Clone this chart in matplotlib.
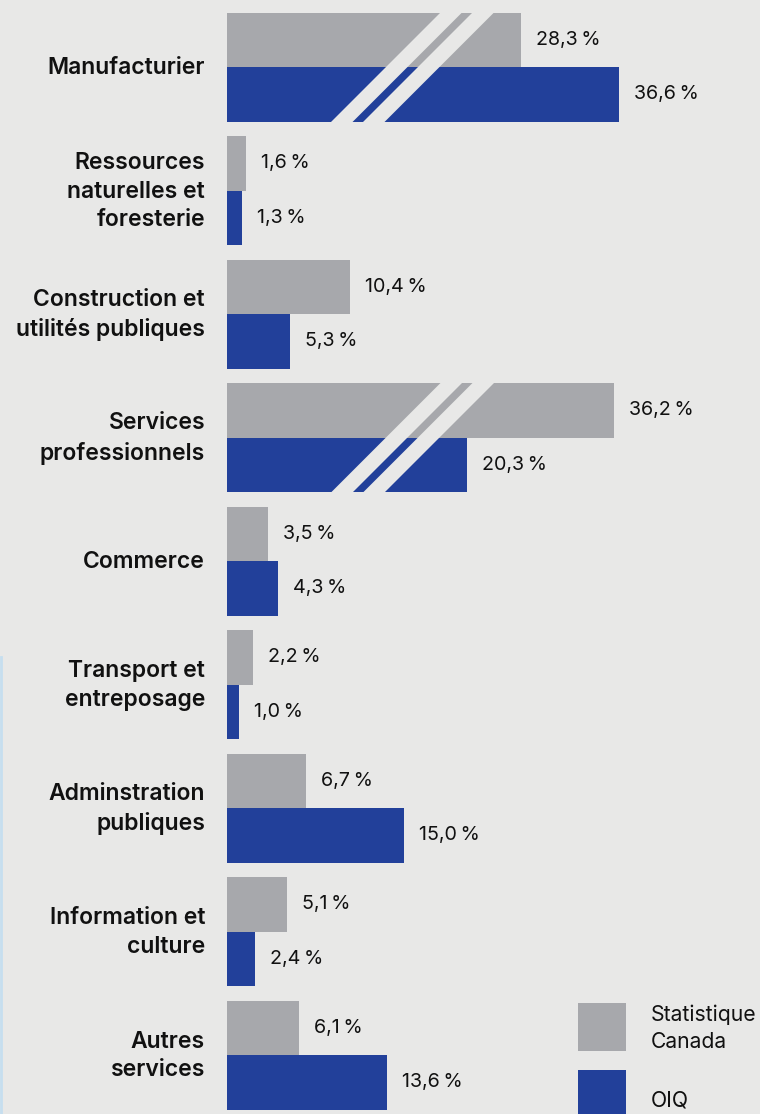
import matplotlib
matplotlib.use("Agg")
import matplotlib.pyplot as plt
from matplotlib.patches import Polygon, Rectangle
from matplotlib.lines import Line2D
from matplotlib.transforms import IdentityTransform

# ---------------- data ----------------
categories = ["Manufacturier",
              "Ressources\nnaturelles et\nforesterie",
              "Construction et\nutilités publiques",
              "Services\nprofessionnels",
              "Commerce",
              "Transport et\nentreposage",
              "Adminstration\npubliques",
              "Information et\nculture",
              "Autres\nservices"]
statcan = [28.3, 1.6, 10.4, 36.2, 3.5, 2.2, 6.7, 5.1, 6.1]
oiq = [36.6, 1.3, 5.3, 20.3, 4.3, 1.0, 15.0, 2.4, 13.6]
series_names = ["Statistique\nCanada", "OIQ"]

BREAK_THRESHOLD = 25.0   # values above are drawn on a broken (shortened) axis
BREAK_CUT = 3.4          # amount removed by the break

# ---------------- style ----------------
BG = "#e8e8e7"
GRAY = "#a7a8ac"
BLUE = "#22409a"
TXT = "#111111"
FONT = ["Inter", "DejaVu Sans"]

W, H, DPI = 760, 1114, 100
PX_PER_UNIT = 11.8
ROW_PX = 123.5
FIRST_ROW_PX = 67
BAR_PX = 54.5
AX_LEFT_PX = 227

fig = plt.figure(figsize=(W / DPI, H / DPI), dpi=DPI, facecolor=BG)
ax = fig.add_axes([AX_LEFT_PX / W, 0, (W - AX_LEFT_PX) / W, 1])
ax.set_facecolor(BG)
ax.axis("off")
ax.set_xlim(0, (W - AX_LEFT_PX) / PX_PER_UNIT)
ax.set_ylim((H - FIRST_ROW_PX) / ROW_PX, -FIRST_ROW_PX / ROW_PX)

h = BAR_PX / ROW_PX


def shown(v):
    return v - BREAK_CUT if v > BREAK_THRESHOLD else v


def fmt(v):
    return f"{v:.1f}".replace(".", ",") + "\u2009%"


ypos = list(range(len(categories)))
s_disp = [shown(v) for v in statcan]
o_disp = [shown(v) for v in oiq]

ax.barh([y - h / 2 for y in ypos], s_disp, height=h, color=GRAY, linewidth=0)
ax.barh([y + h / 2 for y in ypos], o_disp, height=h, color=BLUE, linewidth=0)

pad = 15 / PX_PER_UNIT
for y, v, d in zip(ypos, statcan, s_disp):
    ax.text(d + pad, y - h / 2, fmt(v), ha="left", va="center",
            fontsize=14.2, color=TXT, family=FONT)
for y, v, d in zip(ypos, oiq, o_disp):
    ax.text(d + pad, y + h / 2, fmt(v), ha="left", va="center",
            fontsize=14.2, color=TXT, family=FONT)

# category labels
for y, c in zip(ypos, categories):
    ax.text(-22 / PX_PER_UNIT, y + 1 / ROW_PX, c, ha="right", va="center", ma="right",
            fontsize=16.5, fontweight="semibold", color=TXT, family=FONT,
            linespacing=1.4, clip_on=False)

# axis-break stripes (drawn in pixel space at 45 degrees)
fig.canvas.draw()
BREAK_X = (441.5 - AX_LEFT_PX) / PX_PER_UNIT
for y in ypos:
    if max(statcan[y], oiq[y]) > BREAK_THRESHOLD:
        x0, yt = ax.transData.transform((BREAK_X, y - h))
        _, yb = ax.transData.transform((BREAK_X, y + h))
        yt += 1
        yb -= 1
        d = yt - yb
        for off in (0, 32):
            xs = x0 + off
            w = 21.5
            poly = Polygon([(xs, yt), (xs + w, yt), (xs + w - d, yb), (xs - d, yb)],
                           closed=True, facecolor=BG, edgecolor="none",
                           transform=IdentityTransform(), clip_on=False, zorder=5)
            ax.add_patch(poly)

# legend (manual)
def fx(px):
    return px / W


def fy(py):
    return 1 - py / H


fig.add_artist(Rectangle((fx(578), fy(1051)), 48 / W, 48 / H, transform=fig.transFigure,
                         facecolor=GRAY, edgecolor="none"))
fig.add_artist(Rectangle((fx(578), fy(1118)), 48 / W, 48 / H, transform=fig.transFigure,
                         facecolor=BLUE, edgecolor="none"))
fig.text(fx(651), fy(1028), series_names[0], ha="left", va="center", fontsize=15.2,
         color=TXT, family=FONT, linespacing=1.45)
fig.text(fx(651), fy(1100), series_names[1], ha="left", va="center", fontsize=15.2,
         color=TXT, family=FONT)

# light blue border line on the left
fig.add_artist(Line2D([fx(1), fx(1)], [0, fy(657)], transform=fig.transFigure,
                      color="#c6deef", linewidth=2))

fig.savefig("out.png", dpi=DPI, facecolor=BG)
